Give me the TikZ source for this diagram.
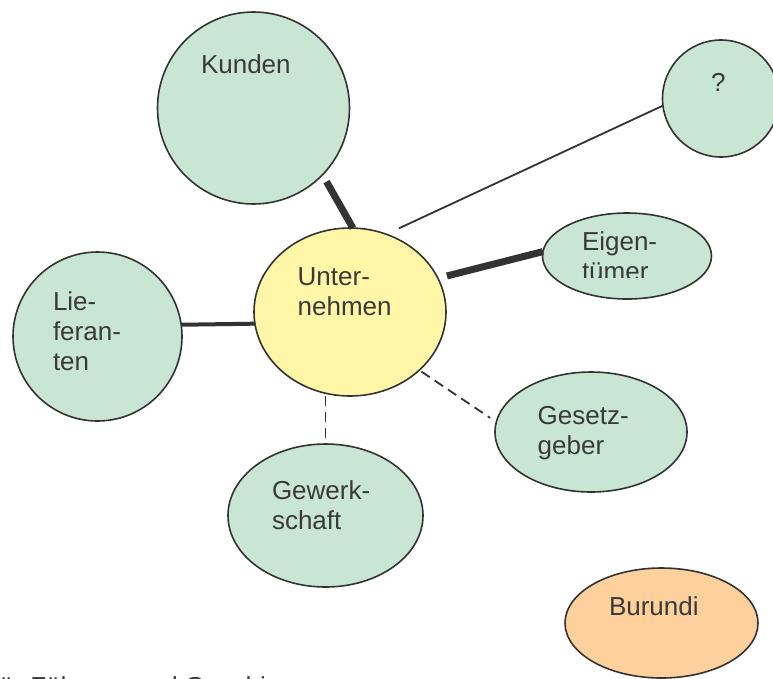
\documentclass[tikz,border=0pt]{standalone}
\usepackage{fontspec}
\setmainfont{Liberation Sans}
\usetikzlibrary{shapes.geometric}
\definecolor{mint}{HTML}{C9E5D3}
\definecolor{butter}{HTML}{FFF6A8}
\definecolor{peach}{HTML}{FDD09C}
\definecolor{ink}{HTML}{333333}
\definecolor{txt}{HTML}{3A3A3A}
\begin{document}
\begin{tikzpicture}[x=1pt,y=-1pt,
  bubble/.style={draw=ink, line width=1.6pt, inner sep=0pt, outer sep=0pt},
  circ/.style={bubble, circle, minimum size=#1},
  ell/.style args={#1/#2}{bubble, ellipse, minimum width=#1, minimum height=#2},
  lbl/.style={anchor=base west, inner sep=0pt, outer sep=0pt, text=txt, font=\fontsize{26}{30}\selectfont},
  heavyline/.style={draw=ink, line width=7pt},
  midline/.style={draw=ink, line width=4pt},
  thinline/.style={draw=ink, line width=1.8pt},
  dashline/.style={draw=ink, line width=1.8pt, dash pattern=on 10pt off 6pt}]
\useasboundingbox (0,0) rectangle (773,678);

% shapes
\node[circ=192pt, fill=mint] (kunden) at (253.5,108) {};
\node[circ=117pt, fill=mint] (frage) at (721,98.5) {};
\node[ell=169pt/86pt, fill=mint] (eigen) at (627,256) {};
\node[ell=192pt/168pt, fill=butter] (unt) at (350,312) {};
\node[circ=169pt, fill=mint] (lief) at (97.5,336.5) {};
\node[ell=192pt/120pt, fill=mint] (gesetz) at (591,432) {};
\node[ell=195pt/143pt, fill=mint] (gew) at (325.5,515.5) {};
\node[ell=193pt/110pt, fill=peach] (bur) at (661.5,623) {};

% connectors
\draw[heavyline, shorten <=8pt] (kunden.-44.4) -- (unt.88.6);
\draw[thinline, shorten <=14pt] (unt.65.7) -- (frage.187.2);
\draw[heavyline, shorten <=9.3pt] (unt.21) -- (eigen.177.3);
\draw[midline] (lief.8.4) -- (unt.187.1);
\draw[dashline] (gew.north |- unt.south) -- (gew.north);
\draw[dashline, shorten <=2.6pt, shorten >=7.5pt] (unt.-40.4) -- (gesetz.174.1);

% labels
\node[lbl] (kunden-t) at (201,73) {Kunden};
\node[lbl] (frage-t) at (711,91) {?};
\begin{scope}
  \clip (540,200) rectangle (720,277.5);
  \node[lbl] (eigen-t) at (582,250) {\begin{tabular}[t]{@{}l@{}}Eigen-\\tümer\end{tabular}};
\end{scope}
\node[lbl] (unt-t) at (297.7,285) {\begin{tabular}[t]{@{}l@{}}Unter-\\nehmen\end{tabular}};
\node[lbl] (lief-t) at (53,310) {\begin{tabular}[t]{@{}l@{}}Lie-\\feran-\\ten\end{tabular}};
\node[lbl] (gesetz-t) at (537.7,424) {\begin{tabular}[t]{@{}l@{}}Gesetz-\\geber\end{tabular}};
\node[lbl] (gew-t) at (272,499) {\begin{tabular}[t]{@{}l@{}}Gewerk-\\schaft\end{tabular}};
\node[lbl] (bur-t) at (609,615) {Burundi};
\node[lbl] (foot-t) at (-1,695) {ü: Führung und Geschi};
\end{tikzpicture}
\end{document}
